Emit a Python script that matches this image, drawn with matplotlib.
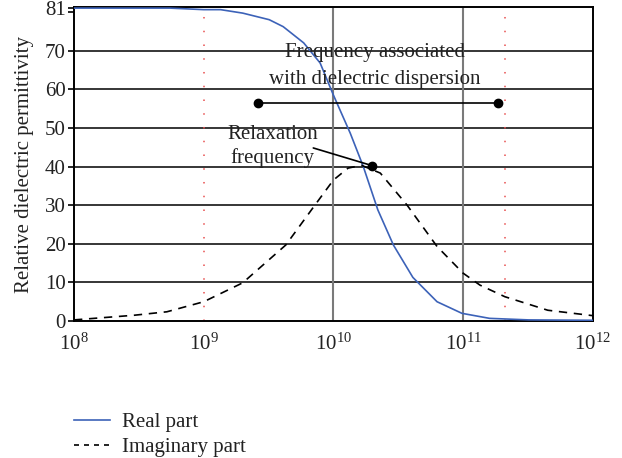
import matplotlib
matplotlib.use("Agg")
import matplotlib.pyplot as plt
from matplotlib.lines import Line2D

plt.rcParams['font.family'] = ['Liberation Serif', 'DejaVu Serif']
plt.rcParams['mathtext.fontset'] = 'custom'
plt.rcParams['mathtext.rm'] = 'Liberation Serif'
plt.rcParams['mathtext.it'] = 'Liberation Serif:italic'
plt.rcParams['mathtext.default'] = 'regular'

# values
freq_real = [1.0e8, 5.5e8, 1.0e9, 1.35e9, 2.0e9, 3.2e9, 4.1e9, 5.9e9, 7.9e9, 1.0e10,
             1.35e10, 1.7e10, 2.2e10, 2.9e10, 4.1e10, 6.3e10, 9.8e10, 1.6e11, 3.2e11, 1.0e12]
eps_real = [81.0, 81.0, 80.6, 80.6, 79.7, 78.0, 76.2, 72.0, 66.8, 58.5,
            48.6, 40.0, 28.8, 19.7, 11.3, 5.0, 2.0, 0.7, 0.3, 0.2]

freq_imag = [1.0e8, 2.9e8, 5.2e8, 1.0e9, 2.0e9, 4.3e9, 7.2e9, 1.0e10, 1.3e10, 1.65e10,
             2.3e10, 3.7e10, 6.3e10, 1.0e11, 1.35e11, 2.1e11, 4.5e11, 1.0e12]
eps_imag = [0.3, 1.5, 2.4, 5.0, 9.9, 19.7, 30.0, 36.5, 39.6, 40.3,
            38.3, 30.0, 19.3, 12.4, 9.3, 6.3, 2.8, 1.4]

band = [2.6e9, 1.85e11]      # dispersion band end points
band_level = 56.4
relax_f, relax_eps = 2.0e10, 40.2
red_lines = [1.0e9, 2.1e11]
gray_lines = [1e10, 1e11]
grid_levels = [10, 20, 30, 40, 50, 60, 70]
yticks = [0, 10, 20, 30, 40, 50, 60, 70, 80, 81]
ylabels = ['0', '10', '20', '30', '40', '50', '60', '70', '', '81']
xticks = [1e8, 1e9, 1e10, 1e11, 1e12]
xlabels = ['$10^{8}$', '$10^{9}$', '$10^{10}$', '$10^{11}$', '$10^{12}$']

FS = 15
TXT = '#222222'

fig = plt.figure(figsize=(6.22, 4.58), dpi=100)
ax = fig.add_axes([0.119, 0.299, 0.834, 0.685])

ax.set_xscale('log')
ax.set_xlim(1e8, 1e12)
ax.set_ylim(0, 81.2)

for g in grid_levels:
    ax.axhline(g, color='black', lw=1.1, zorder=1)
for v in gray_lines:
    ax.axvline(v, color='#7a7a7a', lw=1.5, zorder=1)
for v in red_lines:
    ax.axvline(v, color='#e85050', lw=1.1, ls=(0, (1, 8)), zorder=1)

blue = '#3c62b8'
ax.plot(freq_real, eps_real, color=blue, lw=1.2, zorder=3)
ax.plot(freq_imag, eps_imag, color='black', lw=1.2, ls=(0, (5, 4)), zorder=3)

ax.plot(band, [band_level, band_level], color='black', lw=1.2, marker='o', ms=6, zorder=4)
ax.plot([relax_f], [relax_eps], 'o', color='black', ms=6, zorder=4)

ax.text(2.1e10, 69.4, 'Frequency associated', ha='center', va='center', fontsize=FS, color=TXT)
ax.text(2.1e10, 62.4, 'with dielectric dispersion', ha='center', va='center', fontsize=FS, color=TXT)
ax.text(3.4e9, 48.2, 'Relaxation', ha='center', va='center', fontsize=FS, color=TXT)
ax.text(3.4e9, 42.2, 'frequency', ha='center', va='center', fontsize=FS, color=TXT)
ax.annotate('', xy=(relax_f, relax_eps), xytext=(7.0e9, 44.8),
            arrowprops=dict(arrowstyle='-', color='black', lw=1.2, shrinkA=0, shrinkB=0))

ax.set_yticks(yticks)
ax.set_yticklabels(ylabels, fontsize=FS, color=TXT)
ax.set_xticks(xticks)
ax.set_xticklabels(xlabels, fontsize=FS, color=TXT)
ax.minorticks_off()
ax.tick_params(axis='y', length=4, width=1.2, direction='out', pad=2)
ax.tick_params(axis='x', length=0, pad=9)
ax.set_ylabel('Relative dielectric permittivity', fontsize=FS, labelpad=8, color=TXT)

for s in ax.spines.values():
    s.set_linewidth(1.4)
    s.set_color('black')

handles = [Line2D([], [], color=blue, lw=1.2),
           Line2D([], [], color='black', lw=1.2, ls=(0, (3, 3)))]
fig.legend(handles, ['Real part', 'Imaginary part'], loc='upper left',
           bbox_to_anchor=(0.106, 0.117), frameon=False, fontsize=FS,
           handlelength=1.7, handletextpad=0.6, labelspacing=0.25, borderaxespad=0,
           labelcolor=TXT)

fig.savefig('out.png', dpi=100)
